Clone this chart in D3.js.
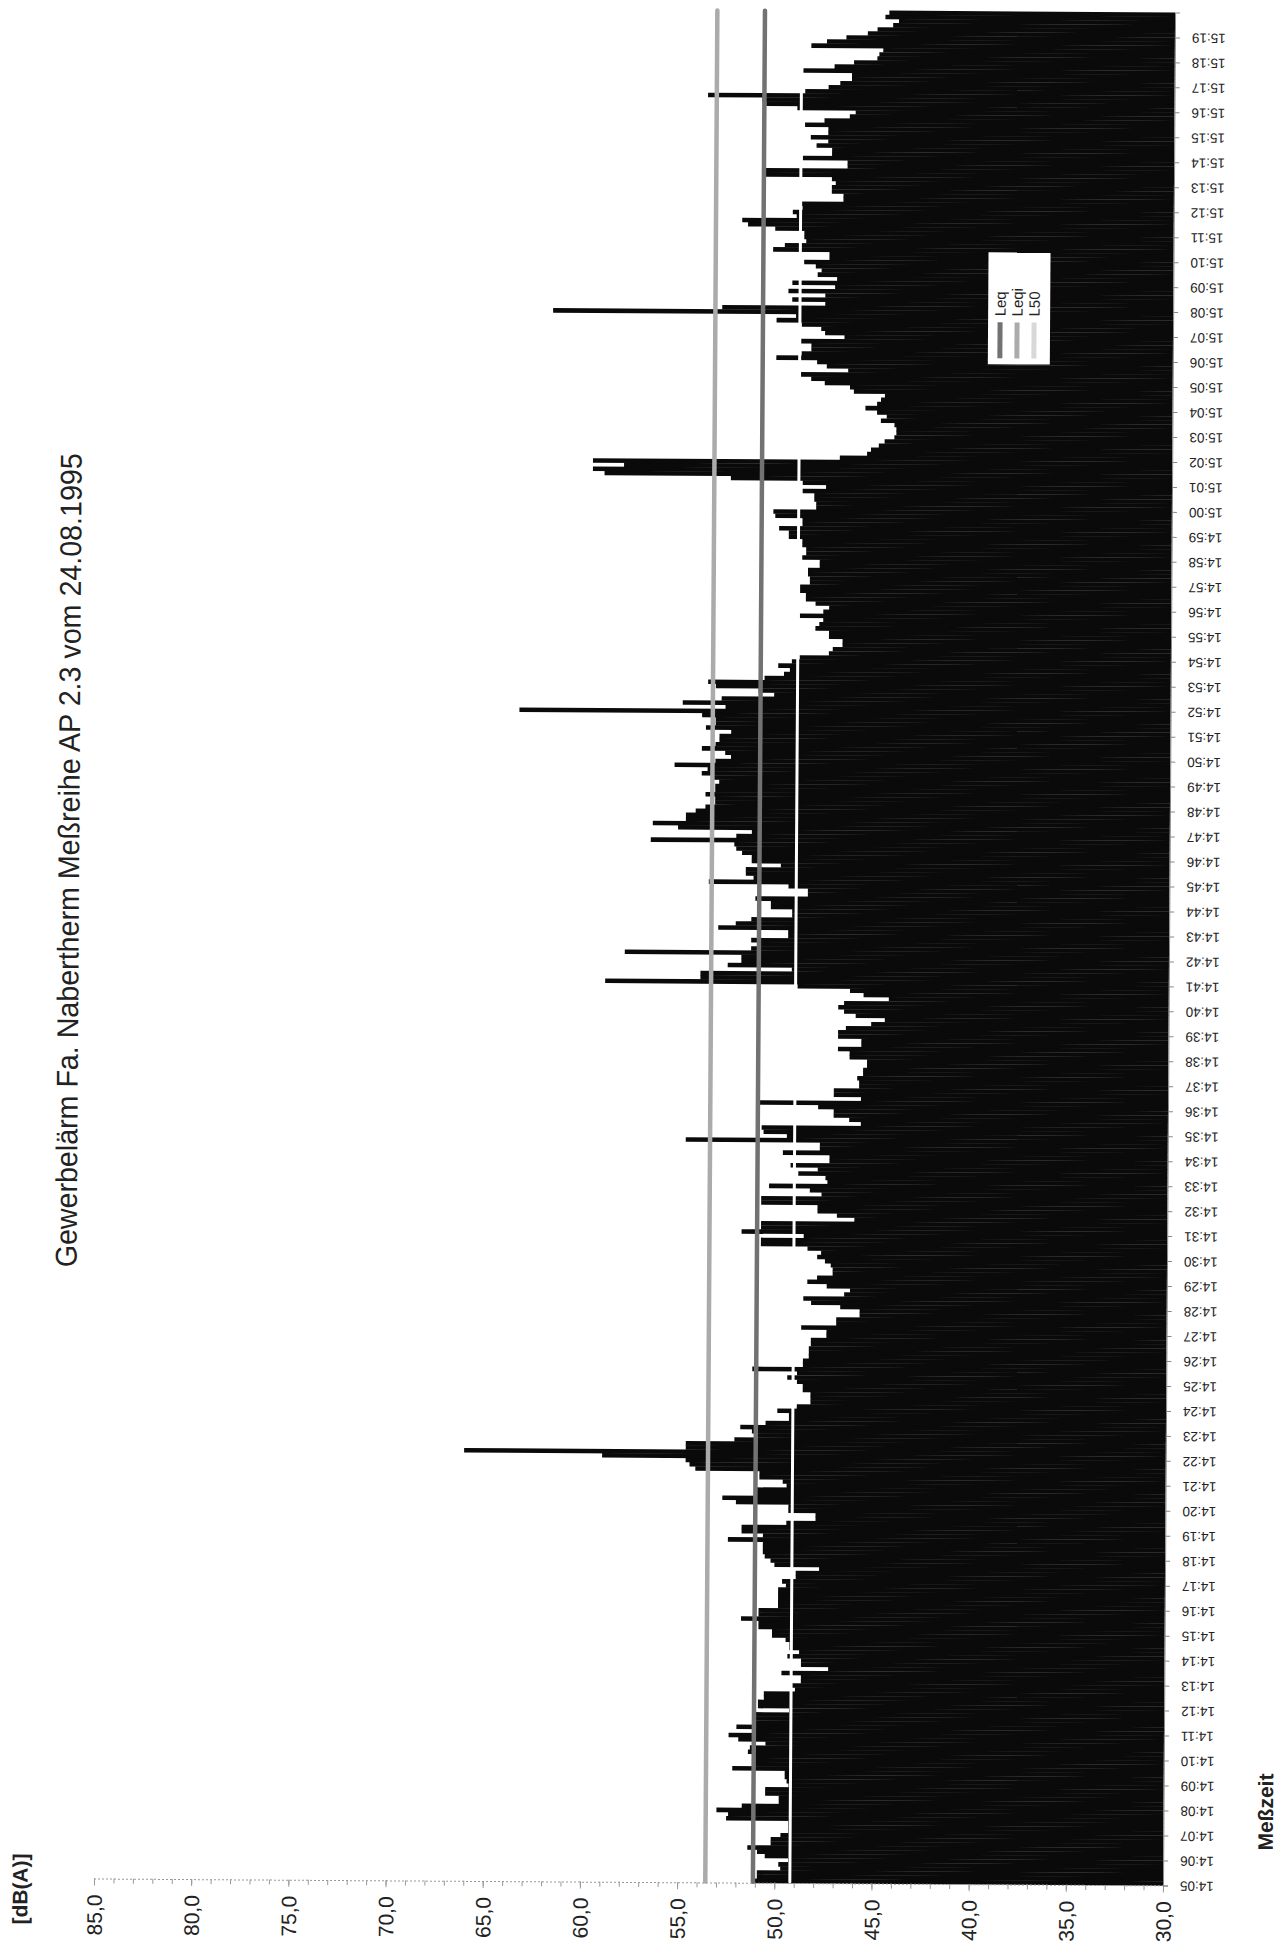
<!DOCTYPE html>
<html><head><meta charset="utf-8">
<script src="https://cdn.jsdelivr.net/npm/d3@7/dist/d3.min.js"></script>
<style>body{margin:0;background:#fff}svg{display:block}</style>
</head><body>
<svg id="chart" width="1282" height="1954"></svg>
<script>
// ---- data (10-second levels, 14:05:00 .. 15:19:50) ----
const binSeconds = 10;
const leq = [
51.1,50.9,50.9,49.7,49.8,49.3,50.5,50.9,51.4,50.2,50.2,49.7,49.3,49.3,49.3,52.5,52.4,53.0,51.7,49.8,
49.8,50.5,50.5,49.3,49.4,49.5,49.5,52.2,51.1,51.1,51.1,51.4,51.3,50.5,51.9,52.4,51.1,52.0,51.1,51.1,
51.1,49.3,50.9,50.9,50.6,50.6,49.0,49.2,48.7,48.7,49.7,47.3,48.7,48.7,49.4,48.8,49.3,49.3,49.5,50.2,
50.2,50.9,50.9,51.8,50.9,50.9,49.9,49.9,49.9,49.9,49.9,49.5,49.7,49.0,49.0,47.8,50.1,50.3,50.6,50.7,
50.7,50.7,52.5,50.7,51.8,51.8,49.5,48.0,48.0,49.4,49.4,52.1,52.8,51.1,51.1,49.5,49.7,50.9,50.9,54.2,
54.5,54.7,59.0,66.1,54.7,54.7,52.2,51.1,51.3,51.9,50.6,49.4,49.4,50.0,49.0,48.3,48.3,48.3,48.7,48.7,
49.0,49.5,49.0,51.3,48.7,48.7,48.4,48.4,48.4,48.3,48.3,47.5,47.5,48.8,47.0,47.0,45.8,45.8,46.8,48.3,
48.7,46.6,46.3,47.5,48.5,48.0,47.2,47.2,47.3,47.6,48.0,47.8,48.5,50.9,50.9,48.7,51.9,50.9,50.9,46.1,
47.0,48.0,48.0,50.9,50.9,47.8,48.4,50.5,47.5,47.6,49.0,48.0,49.4,47.4,47.4,49.8,47.9,47.9,54.8,49.6,
50.8,50.9,45.8,46.4,47.2,47.2,48.0,51.1,45.8,47.2,47.2,45.9,45.9,46.0,45.7,45.7,45.5,45.5,46.4,46.4,
47.0,45.8,45.8,47.0,47.0,46.6,45.3,44.6,46.1,46.7,47.0,46.7,44.4,45.7,46.4,49.1,59.0,54.1,54.1,49.4,
52.7,52.0,52.0,58.0,51.5,51.0,51.5,49.6,49.6,53.2,52.3,51.5,49.4,49.4,50.5,50.5,51.3,48.6,48.6,49.6,
53.7,51.4,51.8,51.8,50.0,51.5,51.5,52.0,52.3,52.4,56.7,52.3,51.5,55.3,56.6,54.9,54.9,54.4,53.9,53.4,
53.4,53.9,53.4,53.4,53.2,53.6,54.1,53.8,55.5,53.4,52.6,52.9,54.1,53.4,53.2,53.2,52.6,53.9,53.4,53.4,
54.1,63.5,52.9,55.1,53.1,50.4,51.2,53.4,53.8,50.9,49.9,49.6,50.2,49.5,49.1,47.6,47.4,46.9,46.9,47.6,
47.6,48.3,48.1,47.9,49.1,47.9,47.6,48.3,48.8,48.8,49.1,49.1,48.6,48.6,48.7,48.7,48.1,48.1,49.0,48.8,
48.8,49.0,49.0,49.7,49.7,50.2,49.0,49.0,50.4,50.5,48.3,48.3,48.4,48.4,49.0,47.8,49.0,52.7,59.2,59.8,
58.2,59.8,47.1,45.7,45.5,45.1,44.8,44.3,44.2,44.2,44.3,45.0,44.7,45.2,45.8,45.2,45.0,44.8,46.4,46.6,
47.9,48.6,49.2,46.7,47.8,48.3,50.4,49.1,48.6,48.6,49.2,46.9,47.9,48.1,49.1,50.4,49.4,61.9,53.2,47.9,
49.6,47.9,49.8,47.4,49.6,47.3,48.3,48.1,48.4,49.0,47.7,47.7,50.6,50.0,48.9,49.0,49.0,50.5,51.9,52.2,
49.4,49.6,49.1,49.2,47.0,47.0,47.6,47.6,47.4,47.6,51.0,51.0,46.8,46.8,49.1,47.6,47.6,48.4,47.8,48.7,
47.8,47.8,49.0,48.0,46.7,46.4,49.4,51.0,51.2,54.0,49.0,47.8,47.2,46.6,46.6,49.1,47.5,46.5,45.3,45.2,
45.0,48.7,47.9,46.9,45.8,45.3,44.5,44.2,44.9,44.7
];
const seriesNames = ["Leq", "Leqi", "L50"];
const levelLeqi = 53.55;   // light grey line
const levelLeq  = 51.1;    // dark grey line
const levelL50  = 49.2;    // white line across the bars
const dbTicks = [85, 80, 75, 70, 65, 60, 55, 50, 45, 40, 35, 30];
const timeLabels = ["14:05","14:06","14:07","14:08","14:09","14:10","14:11","14:12","14:13","14:14",
"14:15","14:16","14:17","14:18","14:19","14:20","14:21","14:22","14:23","14:24","14:25","14:26","14:27",
"14:28","14:29","14:30","14:31","14:32","14:33","14:34","14:35","14:36","14:37","14:38","14:39","14:40",
"14:41","14:42","14:43","14:44","14:45","14:46","14:47","14:48","14:49","14:50","14:51","14:52","14:53",
"14:54","14:55","14:56","14:57","14:58","14:59","15:00","15:01","15:02","15:03","15:04","15:05","15:06",
"15:07","15:08","15:09","15:10","15:11","15:12","15:13","15:14","15:15","15:16","15:17","15:18","15:19"];
const titleText = "Gewerbelärm Fa. Nabertherm Meßreihe AP 2.3 vom 24.08.1995";
const yAxisTitle = "[dB(A)]";
const xAxisTitle = "Meßzeit";

// ---- drawing ----
const FONT = "'Liberation Sans', Arial, sans-serif";
const svg = d3.select("#chart");
const g = svg.append("g").attr("transform", "rotate(0.37,640,1882)");

const x = d3.scaleLinear().domain([85, 30]).range([94, 1163]);
const binsPerMinute = 60 / binSeconds;
const y = d3.scaleLinear().domain([0, leq.length]).range([1882, 9]);

// bars
g.append("g").selectAll("rect").data(leq).join("rect")
  .attr("x", d => x(d))
  .attr("width", d => x(30) - x(d))
  .attr("y", (d, i) => y(i + 1))
  .attr("height", (d, i) => y(i) - y(i + 1) + 0.4)
  .attr("fill", "#0a0a0a");

// reference lines
const lineStyle = {
  "Leqi": {stroke: "#ababab", width: 4.5},
  "Leq":  {stroke: "#727272", width: 4.5},
  "L50":  {stroke: "#ffffff", width: 3}
};
const legendSwatch = {"Leq": "#727272", "Leqi": "#ababab", "L50": "#d8d8d8"};
const levels = [["Leqi", levelLeqi], ["Leq", levelLeq], ["L50", levelL50]];
g.append("g").selectAll("line").data(levels).join("line")
  .attr("x1", d => x(d[1])).attr("x2", d => x(d[1]))
  .attr("y1", y(leq.length) + 1).attr("y2", y(0) - 1)
  .attr("stroke", d => lineStyle[d[0]].stroke)
  .attr("stroke-width", d => lineStyle[d[0]].width)
  .attr("stroke-linecap", "round");

// dB axis (bottom)
const xAxisG = g.append("g").attr("transform", `translate(0,${y(0)})`);
xAxisG.call(d3.axisBottom(x).tickValues(d3.range(30, 86, 1)).tickSize(5).tickFormat(""));
xAxisG.select(".domain").attr("stroke", "#999").attr("stroke-dasharray", "2,2");
xAxisG.selectAll(".tick line").attr("stroke", "#999");
const xLab = g.append("g").attr("transform", `translate(0,${y(0)})`);
xLab.call(d3.axisBottom(x).tickValues(dbTicks).tickSize(7)
  .tickFormat(d => d3.format(".1f")(d).replace(".", ",")));
xLab.select(".domain").remove();
xLab.selectAll(".tick line").attr("stroke", "#999");
xLab.selectAll(".tick text")
  .attr("y", 0).attr("dy", null)
  .attr("transform", "translate(0,16) rotate(-90)")
  .attr("text-anchor", "end")
  .attr("dominant-baseline", "central")
  .attr("font-family", FONT).attr("font-size", 21).attr("fill", "#222");

// time axis (right)
const tAxis = d3.axisRight(y)
  .tickValues(timeLabels.map((t, m) => m * binsPerMinute))
  .tickSize(5)
  .tickFormat((d, i) => timeLabels[i]);
const yAxisG = g.append("g").attr("transform", `translate(${x(30)},0)`).call(tAxis);
yAxisG.select(".domain").attr("stroke", "#888");
yAxisG.selectAll(".tick line").attr("stroke", "#888");
yAxisG.selectAll(".tick text")
  .attr("x", 0).attr("dy", null)
  .attr("transform", "translate(17,0) rotate(180)")
  .attr("text-anchor", "end")
  .attr("dominant-baseline", "central")
  .attr("font-family", FONT).attr("font-size", 13.5).attr("fill", "#222");

// titles
g.append("text")
  .attr("transform", "translate(62,864) rotate(-90)")
  .attr("text-anchor", "middle").attr("dominant-baseline", "central")
  .attr("font-family", FONT).attr("font-size", 30).attr("fill", "#222")
  .attr("textLength", 814).attr("lengthAdjust", "spacingAndGlyphs")
  .text(titleText);
g.append("text")
  .attr("transform", "translate(20,1893) rotate(-90)")
  .attr("text-anchor", "middle").attr("dominant-baseline", "central")
  .attr("font-family", FONT).attr("font-size", 21).attr("font-weight", "bold").attr("fill", "#222")
  .text(yAxisTitle);
g.append("text")
  .attr("transform", "translate(1265,1808) rotate(-90)")
  .attr("text-anchor", "middle").attr("dominant-baseline", "central")
  .attr("font-family", FONT).attr("font-size", 21).attr("font-weight", "bold").attr("fill", "#222")
  .text(xAxisTitle);

// legend
const legend = g.append("g").attr("transform", "translate(978,250)");
legend.append("rect").attr("x", 0).attr("y", 0).attr("width", 62).attr("height", 112).attr("fill", "#fff");
const le = legend.selectAll("g.le").data(seriesNames).join("g").attr("class", "le")
  .attr("transform", (d, i) => `translate(${12 + i * 17},0)`);
le.append("line").attr("x1", 0).attr("x2", 0).attr("y1", 70).attr("y2", 106)
  .attr("stroke", d => legendSwatch[d]).attr("stroke-width", 5);
le.append("text").attr("transform", "translate(0,64) rotate(-90)")
  .attr("dominant-baseline", "central")
  .attr("font-family", FONT).attr("font-size", 15).attr("fill", "#222")
  .text(d => d);
</script>
</body></html>
